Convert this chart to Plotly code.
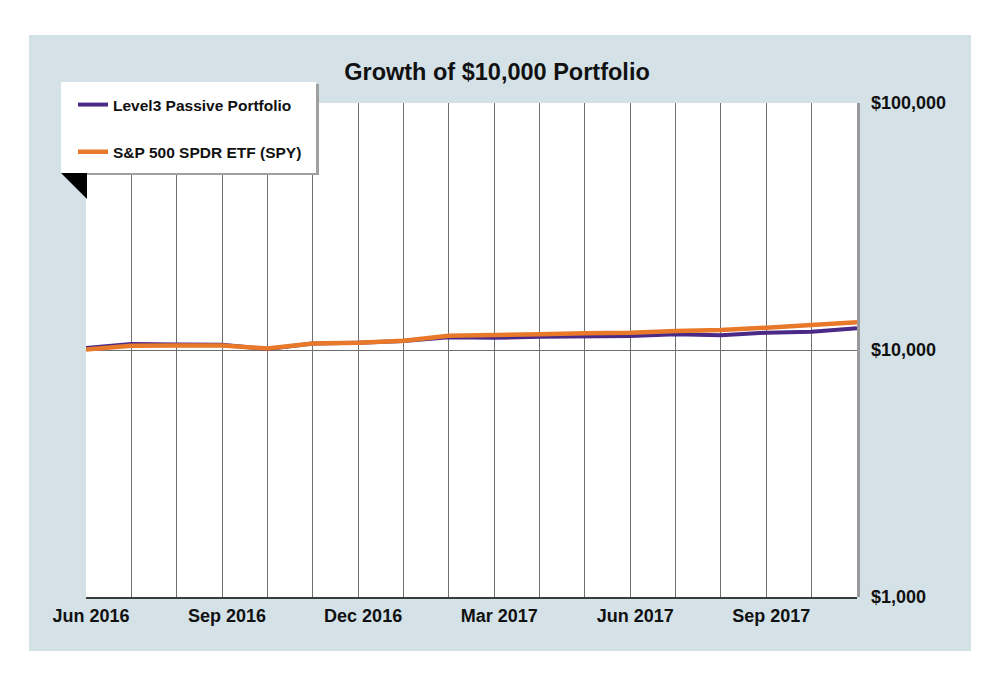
import plotly.graph_objects as go

months = ["Jun 2016", "Jul 2016", "Aug 2016", "Sep 2016", "Oct 2016", "Nov 2016",
          "Dec 2016", "Jan 2017", "Feb 2017", "Mar 2017", "Apr 2017", "May 2017",
          "Jun 2017", "Jul 2017", "Aug 2017", "Sep 2017", "Oct 2017", "Nov 2017"]
level3 = [10190, 10580, 10530, 10500, 10090, 10620, 10700, 10880, 11260, 11210,
          11320, 11320, 11400, 11580, 11470, 11750, 11860, 12240]
spy = [10050, 10410, 10430, 10430, 10140, 10620, 10700, 10910, 11430, 11470,
       11580, 11690, 11750, 11940, 12050, 12310, 12590, 12950]
labeled_months = ["Jun 2016", "Sep 2016", "Dec 2016", "Mar 2017", "Jun 2017", "Sep 2017"]
y_ticks = [1000, 10000, 100000]
y_tick_text = ["$1,000", "$10,000", "$100,000"]

OFF = 8  # page body margin
W, H = 1000 - 2 * OFF, 683 - 2 * OFF
L, R, T, B = 86, 857, 103, 597  # page coordinates of plot area
FONT = "Liberation Sans, Arial, sans-serif"


def px(x):
    return (x - L) / (R - L)


def py(y):
    return (B - y) / (B - T)


fig = go.Figure()
fig.add_trace(go.Scatter(x=months, y=level3, mode="lines", name="Level3 Passive Portfolio",
                         line=dict(color="#4B2A87", width=4), legendgroup="a"))
fig.add_trace(go.Scatter(x=months, y=spy, mode="lines", name="S&P 500 SPDR ETF (SPY)",
                         line=dict(color="#E8792A", width=4.5), legendgroup="b"))

shapes = [
    # outer panel
    dict(type="rect", xref="paper", yref="paper", x0=px(29), x1=px(971), y0=py(651), y1=py(35),
         fillcolor="#D4E2E8", line=dict(width=0), layer="below"),
    # plot shadow
    dict(type="rect", xref="paper", yref="paper", x0=px(86), x1=px(860), y0=py(597), y1=py(103),
         fillcolor="#9A9A9A", line=dict(width=0), layer="below"),
    # plot background
    dict(type="rect", xref="paper", yref="paper", x0=0, x1=1, y0=0, y1=1,
         fillcolor="#FFFFFF", line=dict(width=0), layer="below"),
    # legend shadow
    dict(type="rect", xref="paper", yref="paper", x0=px(63), x1=px(319), y0=py(175), y1=py(84),
         fillcolor="#A0A0A0", line=dict(width=0), layer="above"),
    dict(type="path", xref="paper", yref="paper",
         path=f"M {px(61)} {py(173)} L {px(87)} {py(173)} L {px(87)} {py(199)} Z",
         fillcolor="#000000", line=dict(width=0), layer="above"),
    dict(type="rect", xref="paper", yref="paper", x0=px(61), x1=px(316), y0=py(173), y1=py(82),
         fillcolor="#FFFFFF", line=dict(width=0), layer="above"),
]

fig.update_layout(
    width=W, height=H,
    margin=dict(l=L - OFF, r=W - (R - OFF), t=T - OFF, b=H - (B - OFF)),
    paper_bgcolor="#FFFFFF",
    plot_bgcolor="rgba(0,0,0,0)",
    shapes=shapes,
    title=dict(text="<b>Growth of $10,000 Portfolio</b>", x=(497 - OFF) / W, xref="container",
               y=1 - (72 - OFF) / H, yref="container", xanchor="center", yanchor="middle",
               font=dict(family=FONT, size=23.5, color="#111111")),
    legend=dict(x=px(73), y=py(88), xanchor="left", yanchor="top",
                bgcolor="rgba(0,0,0,0)", borderwidth=0, tracegroupgap=24,
                font=dict(family=FONT, size=15.5, color="#111111", weight="bold")),
    xaxis=dict(type="category", categoryorder="array", categoryarray=months,
               range=[0, len(months) - 1], tickvals=months,
               ticktext=[f"<b>{m}</b>" if m in labeled_months else "" for m in months],
               showgrid=True, gridcolor="#6F6F6F", gridwidth=1,
               showline=True, linecolor="#3A3A3A", linewidth=1.5,
               ticks="", ticklabelstandoff=2, ticklabelshift=5,
               tickfont=dict(family=FONT, size=18, color="#111111"), zeroline=False),
    yaxis=dict(type="log", range=[3, 5], side="right", tickvals=y_ticks,
               ticktext=[f"<b>{t}</b>" for t in y_tick_text],
               showgrid=True, gridcolor="#6F6F6F", gridwidth=1, zeroline=False,
               showline=False, ticks="", ticklabelstandoff=13,
               tickfont=dict(family=FONT, size=18, color="#111111")),
    font=dict(family=FONT),
)

fig.write_html("out.html")
